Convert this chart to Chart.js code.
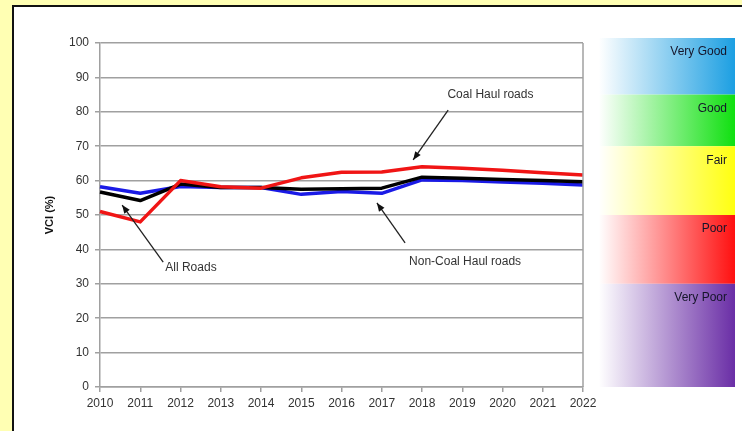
<!DOCTYPE html>
<html>
<head>
<meta charset="utf-8">
<script src="https://cdn.jsdelivr.net/npm/chart.js@4.4.0/dist/chart.umd.min.js"></script>
<style>
  html, body { margin: 0; padding: 0; background: #ffffb3; }
  #wrap { width: 742px; height: 431px; position: relative; }
</style>
</head>
<body>
<div id="wrap"><canvas id="vciChart" width="742" height="431"></canvas></div>
<script>
const years = ['2010', '2011', '2012', '2013', '2014', '2015', '2016', '2017', '2018', '2019', '2020', '2021', '2022'];
const coalHaul = [51, 48, 60, 58.2, 57.8, 60.8, 62.4, 62.5, 64, 63.6, 63, 62.3, 61.6];
const allRoads = [56.7, 54.2, 59, 58, 58, 57.5, 57.6, 57.8, 61, 60.7, 60.3, 60, 59.7];
const nonCoalHaul = [58.2, 56.3, 58.3, 58, 58, 56, 56.8, 56.3, 60.2, 60, 59.6, 59.2, 58.7];

const bandNames = ['Very Good', 'Good', 'Fair', 'Poor', 'Very Poor'];
const bandLimits = [100, 85, 70, 50, 30, 0];
const bandColors = ['#1c9fe2', '#10e010', '#ffff10', '#ff1010', '#6a2ea6'];

// annotations: [text, textX, textY, tailX, tailY, tipX, tipY] in year index / VCI units
const notes = [
    ['Coal Haul roads', 9.7, 85, 8.65, 80.5, 7.78, 66],
    ['All Roads', 2.26, 34.6, 1.57, 36.3, 0.55, 52.9],
    ['Non-Coal Haul roads', 9.07, 36.3, 7.58, 41.9, 6.88, 53.5]
];

const backdrop = {
    id: 'backdrop',
    beforeDraw(chart) {
        const ctx = chart.ctx;
        const y = chart.scales.y;
        ctx.save();
        ctx.fillStyle = '#ffffb3';
        ctx.fillRect(0, 0, chart.width, chart.height);
        ctx.fillStyle = '#ffffff';
        ctx.fillRect(13, 6, chart.width - 13, chart.height - 6);
        ctx.fillStyle = '#111111';
        ctx.fillRect(12, 5, 2, chart.height - 5);
        ctx.fillRect(12, 5, chart.width - 12, 2);

        // condition bands on the right
        const x0 = 587, x1 = 735;
        bandNames.forEach((name, i) => {
            let top = y.getPixelForValue(bandLimits[i]);
            const bottom = y.getPixelForValue(bandLimits[i + 1]);
            if (i === 0) top -= 5;
            const grad = ctx.createLinearGradient(x0, 0, x1, 0);
            grad.addColorStop(0, 'rgba(255,255,255,1)');
            grad.addColorStop(0.08, 'rgba(255,255,255,1)');
            grad.addColorStop(1, bandColors[i]);
            ctx.fillStyle = grad;
            ctx.fillRect(x0, top, x1 - x0, bottom - top);
            ctx.fillStyle = '#15152a';
            ctx.font = '12px "Liberation Sans", Arial, sans-serif';
            ctx.textAlign = 'right';
            ctx.textBaseline = 'middle';
            ctx.fillText(name, 727, top + 14);
        });
        ctx.restore();
    },
    afterDatasetsDraw(chart) {
        const ctx = chart.ctx;
        const xs = chart.scales.x;
        const ys = chart.scales.y;
        const area = chart.chartArea;
        ctx.save();
        // right border of plot area
        ctx.strokeStyle = '#a0a0a0';
        ctx.lineWidth = 1.5;
        ctx.beginPath();
        ctx.moveTo(area.right, area.top);
        ctx.lineTo(area.right, area.bottom);
        ctx.stroke();

        notes.forEach(n => {
            const tx = xs.getPixelForValue(n[1]);
            const ty = ys.getPixelForValue(n[2]);
            const ax = xs.getPixelForValue(n[3]);
            const ay = ys.getPixelForValue(n[4]);
            const bx = xs.getPixelForValue(n[5]);
            const by = ys.getPixelForValue(n[6]);
            ctx.fillStyle = '#333333';
            ctx.font = '12px "Liberation Sans", Arial, sans-serif';
            ctx.textAlign = 'center';
            ctx.textBaseline = 'middle';
            ctx.fillText(n[0], tx, ty);
            ctx.strokeStyle = '#222222';
            ctx.lineWidth = 1.3;
            ctx.beginPath();
            ctx.moveTo(ax, ay);
            ctx.lineTo(bx, by);
            ctx.stroke();
            const ang = Math.atan2(by - ay, bx - ax);
            ctx.fillStyle = '#111111';
            ctx.beginPath();
            ctx.moveTo(bx, by);
            ctx.lineTo(bx - 9 * Math.cos(ang - 0.38), by - 9 * Math.sin(ang - 0.38));
            ctx.lineTo(bx - 9 * Math.cos(ang + 0.38), by - 9 * Math.sin(ang + 0.38));
            ctx.closePath();
            ctx.fill();
        });
        ctx.restore();
    }
};

const ctx = document.getElementById('vciChart').getContext('2d');
new Chart(ctx, {
    type: 'line',
    data: {
        labels: years,
        datasets: [
            { label: 'Coal Haul roads', data: coalHaul, borderColor: '#f01515', borderWidth: 3.5 },
            { label: 'All Roads', data: allRoads, borderColor: '#000000', borderWidth: 3.5 },
            { label: 'Non-Coal Haul roads', data: nonCoalHaul, borderColor: '#1a1ae6', borderWidth: 3.5 }
        ]
    },
    options: {
        responsive: false,
        animation: false,
        events: [],
        elements: {
            point: { radius: 0 },
            line: { tension: 0, borderJoinStyle: 'round' }
        },
        layout: { padding: { left: 43, top: 43, right: 159, bottom: 0 } },
        plugins: {
            legend: { display: false },
            tooltip: { enabled: false }
        },
        scales: {
            x: {
                offset: false,
                grid: { drawOnChartArea: false, tickLength: 5, color: '#a0a0a0', lineWidth: 1.5 },
                border: { color: '#a0a0a0', width: 1.5 },
                ticks: {
                    color: '#333333',
                    padding: 4,
                    maxRotation: 0,
                    autoSkip: false,
                    font: { family: '"Liberation Sans", Arial, sans-serif', size: 12 }
                },
                afterFit(scale) { scale.height = 44; }
            },
            y: {
                min: 0,
                max: 100,
                grid: { tickLength: 5, color: '#a0a0a0', lineWidth: 1.5 },
                border: { color: '#a0a0a0', width: 1.5 },
                ticks: {
                    stepSize: 10,
                    color: '#333333',
                    padding: 6,
                    font: { family: '"Liberation Sans", Arial, sans-serif', size: 12 }
                },
                title: {
                    display: true,
                    text: 'VCI (%)',
                    color: '#111111',
                    padding: 0,
                    font: { family: '"Liberation Sans", Arial, sans-serif', size: 11, weight: 'bold' }
                },
                afterFit(scale) { scale.width = 57; }
            }
        }
    },
    plugins: [backdrop]
});
</script>
</body>
</html>
